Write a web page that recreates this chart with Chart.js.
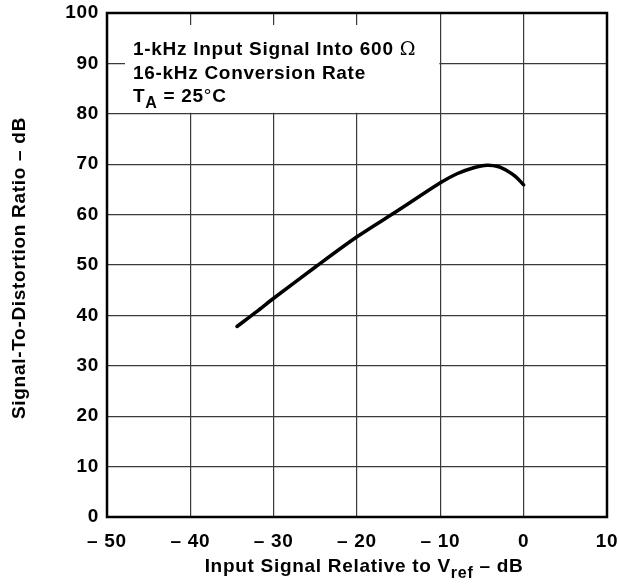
<!DOCTYPE html>
<html>
<head>
<meta charset="utf-8">
<script src="https://cdn.jsdelivr.net/npm/chart.js@4/dist/chart.umd.min.js"></script>
<style>
  html, body { margin: 0; padding: 0; background: #fff; }
  #wrap { width: 619px; height: 584px; position: relative; }
</style>
</head>
<body>
<div id="wrap"><canvas id="c" width="619" height="584"></canvas></div>
<script>
// values
const inputDb = [-34.4, -32, -30, -25, -20, -15, -10, -8, -6, -4.4, -3, -2, -1, 0];
const sdrDb = [37.8, 40.8, 43.4, 49.6, 55.6, 60.9, 66.3, 68.1, 69.3, 69.8, 69.5, 68.7, 67.6, 65.9];
const xTicks = [-50, -40, -30, -20, -10, 0, 10];
const yTicks = [0, 10, 20, 30, 40, 50, 60, 70, 80, 90, 100];
const noteLines = ['1-kHz Input Signal Into 600 ', '16-kHz Conversion Rate', 'T'];

const FONT = 'Liberation Sans, Arial, Helvetica, sans-serif';
const SPACING = '0.7px';

// white note box over the grid, frame, and text with sub/superscripts
const extras = {
  id: 'extras',
  beforeDraw(chart) {
    chart.ctx.letterSpacing = SPACING;
  },
  beforeDatasetsDraw(chart) {
    const { ctx, chartArea: a, scales: { x, y } } = chart;
    ctx.save();
    ctx.fillStyle = '#fff';
    const l = a.left + 18, t = a.top + 12;
    ctx.fillRect(l, t, x.getPixelForValue(-10) - 1 - l, y.getPixelForValue(80) - 1 - t);
    ctx.restore();
  },
  afterDraw(chart) {
    const { ctx, chartArea: a } = chart;
    ctx.save();
    ctx.strokeStyle = '#000';
    ctx.lineWidth = 2.5;
    ctx.strokeRect(a.left, a.top, a.right - a.left, a.bottom - a.top);

    ctx.letterSpacing = SPACING;
    ctx.fillStyle = '#000';
    ctx.textBaseline = 'alphabetic';
    ctx.textAlign = 'left';
    const seq = (items, x0, y0) => {
      let px = x0;
      items.forEach(p => {
        ctx.font = p[1];
        ctx.fillText(p[0], px, y0 + (p[2] || 0));
        px += ctx.measureText(p[0]).width;
      });
    };
    const B = 'bold 19px ' + FONT;
    const tx = a.left + 26;
    seq([[noteLines[0], B], ['\u03A9', '19px "DejaVu Serif", serif']], tx, 55);
    seq([[noteLines[1], B]], tx, 79);
    seq([[noteLines[2], B], ['A', 'bold 16px ' + FONT, 6], [' = 25', B], ['\u00B0', '19px ' + FONT], ['C', B]], tx, 102);

    // x axis title
    const T = 'bold 19px ' + FONT;
    const parts = [['Input Signal Relative to V', T], ['ref', 'bold 16px ' + FONT, 6], [' \u2013 dB', T]];
    let total = 0;
    parts.forEach(p => { ctx.font = p[1]; total += ctx.measureText(p[0]).width; });
    seq(parts, 364 - total / 2, 572);

    // y axis title
    ctx.translate(20, 268);
    ctx.rotate(-Math.PI / 2);
    ctx.textAlign = 'center';
    ctx.textBaseline = 'middle';
    ctx.font = T;
    ctx.fillText('Signal-To-Distortion Ratio \u2013 dB', 0, 0);
    ctx.restore();
  }
};

new Chart(document.getElementById('c'), {
  type: 'scatter',
  data: {
    datasets: [{
      data: inputDb.map((v, i) => ({ x: v, y: sdrDb[i] })),
      showLine: true,
      borderColor: '#000',
      borderWidth: 3.5,
      pointRadius: 0,
      tension: 0.3,
      borderCapStyle: 'round'
    }]
  },
  options: {
    responsive: false,
    animation: false,
    layout: { autoPadding: false, padding: { top: 13, right: 12 } },
    plugins: { legend: { display: false }, tooltip: { enabled: false } },
    scales: {
      x: {
        type: 'linear',
        min: -50, max: 10,
        afterBuildTicks: s => { s.ticks = xTicks.map(v => ({ value: v })); },
        afterFit: s => { s.height = 67; s.paddingLeft = 0; s.paddingRight = 0; },
        grid: { color: '#3a3a3a', lineWidth: 1.2, drawTicks: false },
        border: { display: false },
        ticks: {
          color: '#000', padding: 13,
          font: { family: FONT, size: 19, weight: 'bold' },
          callback: v => v < 0 ? '\u2013 ' + Math.abs(v) : String(v)
        }
      },
      y: {
        min: 0, max: 100,
        afterBuildTicks: s => { s.ticks = yTicks.map(v => ({ value: v })); },
        afterFit: s => { s.width = 107; s.paddingTop = 0; s.paddingBottom = 0; },
        grid: { color: '#3a3a3a', lineWidth: 1.2, drawTicks: false },
        border: { display: false },
        ticks: {
          color: '#000', padding: 8,
          font: { family: FONT, size: 19, weight: 'bold' }
        }
      }
    }
  },
  plugins: [extras]
});
</script>
</body>
</html>
